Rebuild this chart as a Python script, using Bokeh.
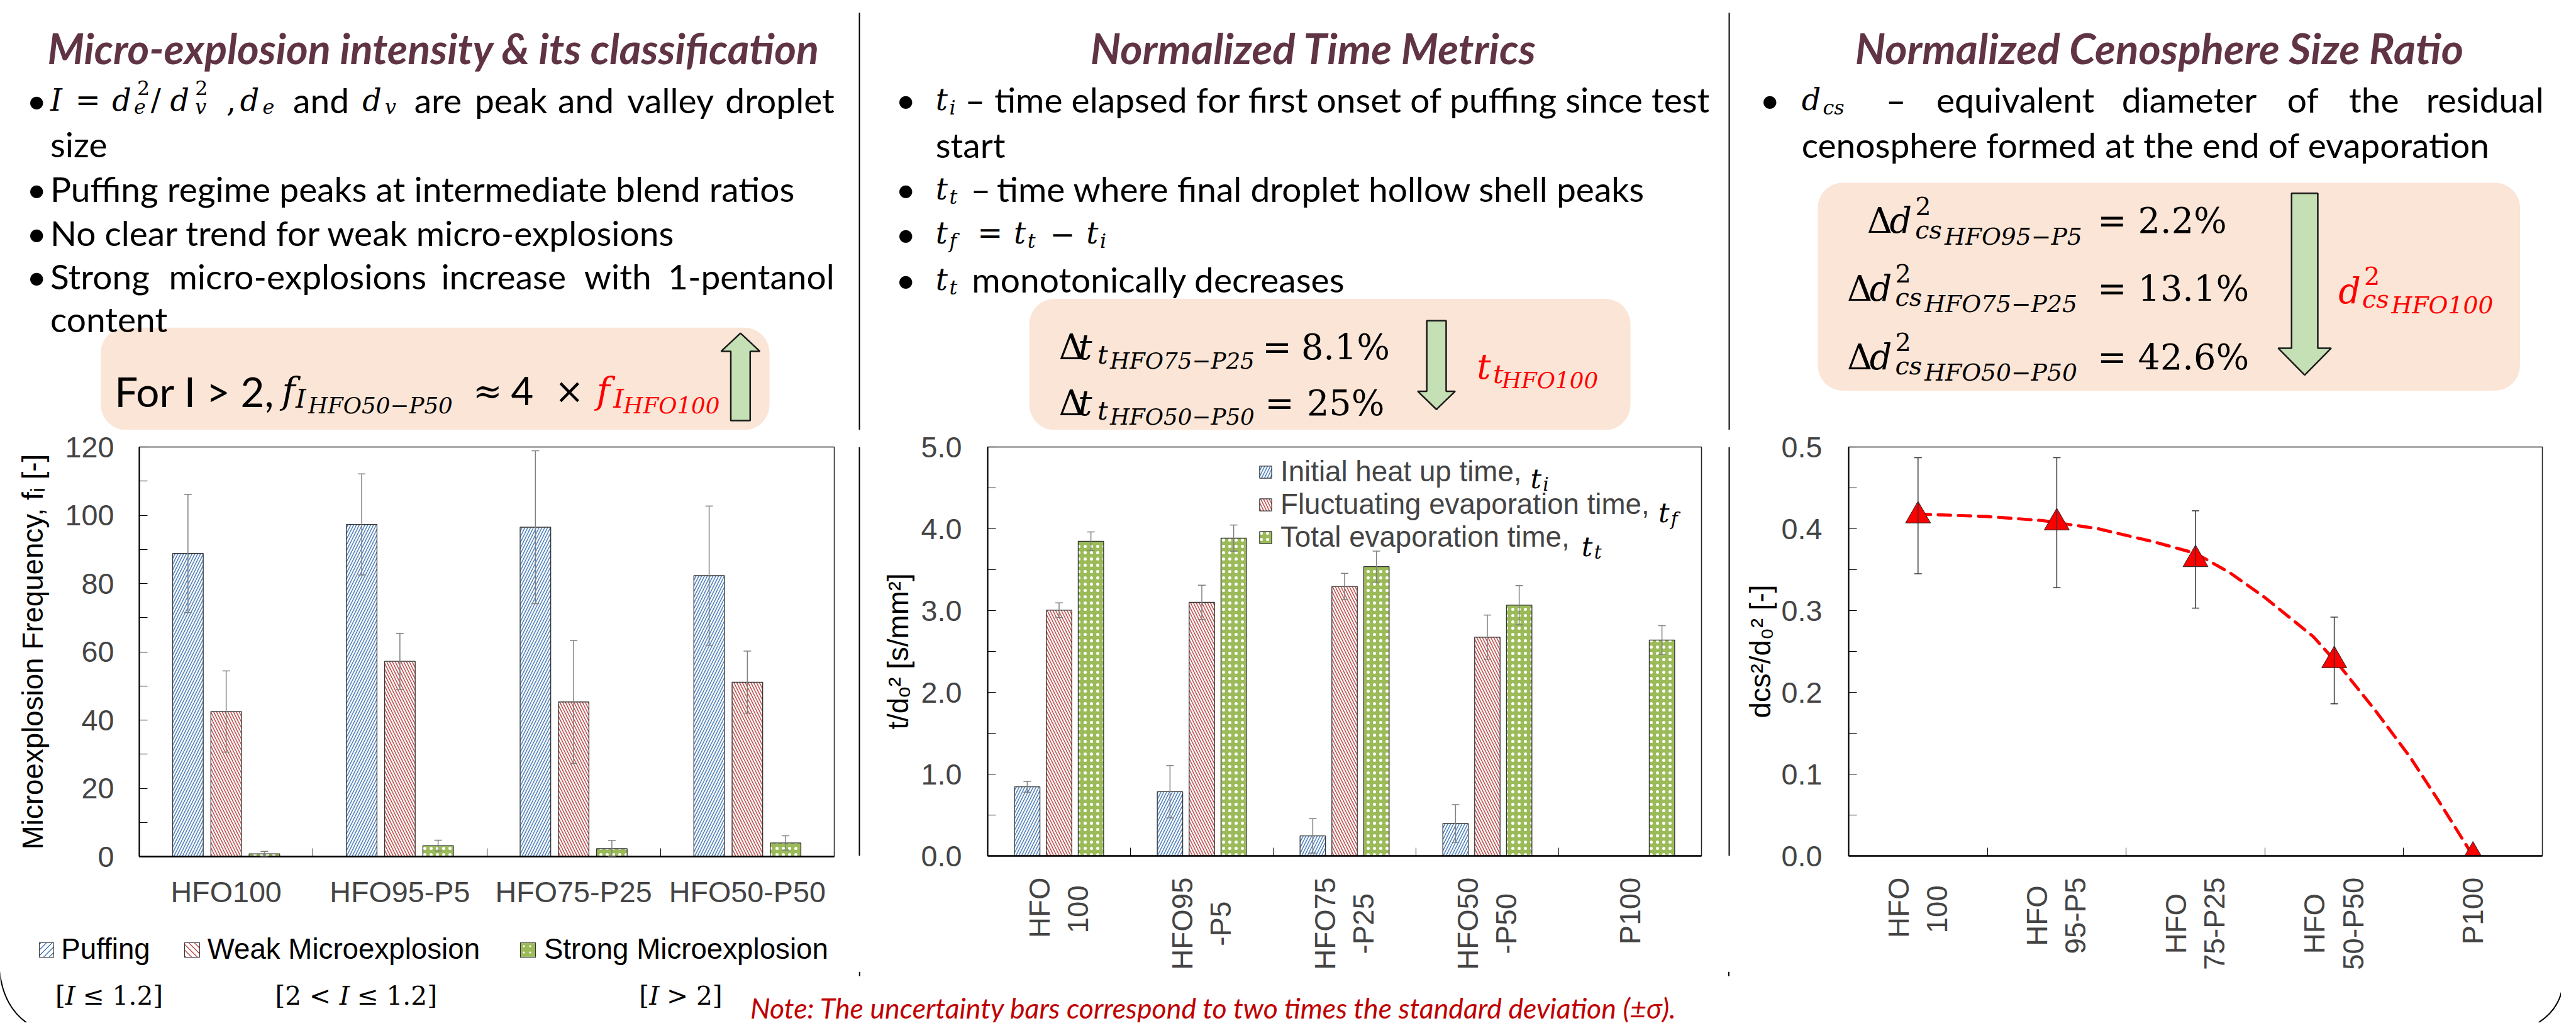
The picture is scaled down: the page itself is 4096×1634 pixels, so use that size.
import math
from bokeh.plotting import figure
from bokeh.layouts import row, column
from bokeh.models import (Range1d, LinearAxis, FixedTicker, Whisker, TeeHead, ColumnDataSource,
                          Legend, LegendItem, BoxAnnotation, Label, NumeralTickFormatter, Div)
from bokeh.embed import file_html
from bokeh.resources import INLINE
from bokeh.core.properties import value

S = 0.993
RW, RH = 4101, 1636


def sx(v):
    return round(v * S)


def px(v):
    return f"{v * S:.1f}px"

# ---------------- data ----------------
groups_freq = ["HFO100", "HFO95-P5", "HFO75-P25", "HFO50-P50"]
puffing = [88.8, 97.3, 96.5, 82.3]
puffing_err = [17.3, 14.8, 22.4, 20.4]
weak = [42.5, 57.2, 45.3, 51.1]
weak_err = [11.9, 8.2, 18.0, 9.1]
strong = [0.8, 3.2, 2.3, 4.0]
strong_err = [0.7, 1.6, 2.4, 2.1]
freq_series = ["Puffing", "Weak Microexplosion", "Strong Microexplosion"]
freq_ticks = [0, 20, 40, 60, 80, 100, 120]
freq_title = "Microexplosion Frequency, fᵢ [-]"

NB = "\u00a0"
groups_time = ["HFO\n" + NB + "100" + NB, "HFO95\n" + NB * 3 + "-P5" + NB * 3,
               "HFO75\n" + NB * 2 + "-P25" + NB * 2, "HFO50\n" + NB * 2 + "-P50" + NB * 2, "P100"]
t_i = [0.845, 0.785, 0.245, 0.396, None]
t_i_err = [0.067, 0.32, 0.21, 0.23, None]
t_f = [3.005, 3.10, 3.295, 2.675, None]
t_f_err = [0.09, 0.21, 0.16, 0.27, None]
t_t = [3.847, 3.886, 3.537, 3.066, 2.64]
t_t_err = [0.115, 0.16, 0.19, 0.24, 0.175]
time_series = ["Initial heat up time,", "Fluctuating evaporation time,", "Total evaporation time,"]
time_ticks = [0, 1, 2, 3, 4, 5]
time_title = "t/dₒ² [s/mm²]"

groups_cs = ["HFO\n" + NB + "100" + NB, NB + "HFO" + NB + "\n95-P5", NB * 2 + "HFO" + NB * 2 + "\n75-P25",
             NB * 2 + "HFO" + NB * 2 + "\n50-P50", "P100"]
d_cs = [0.416, 0.4075, 0.3625, 0.239, 0.0]
d_cs_err = [0.071, 0.0795, 0.0595, 0.053, None]
trend_pos = [0.0, 0.5, 0.9, 1.3, 1.7, 2.0, 2.25, 2.5, 2.85, 3.05, 3.3, 3.55, 3.75, 4.0]
trend_val = [0.418, 0.415, 0.41, 0.40, 0.384, 0.370, 0.346, 0.316, 0.268, 0.23, 0.177, 0.12, 0.068, 0.0]
cs_ticks = [0.0, 0.1, 0.2, 0.3, 0.4, 0.5]
cs_title = "dcs²/d₀² [-]"

# ---------------- styles ----------------
TITLE = "#603445"
RED = "#FF0000"
NOTE = "#C00000"
BLUE_H = "#4F81BD"
RED_H = "#C0504D"
GREEN = "#9BBB59"
PEACH = "#FBE5D6"
ARROW_FILL = "#C5E0B4"
SANS = "Liberation Sans"
BODY = "Lato"
MATH = "DejaVu Serif"
BT = 55.5      # body text size
BLUE_STYLE = dict(fill_color="white", hatch_pattern="/", hatch_color=BLUE_H, hatch_scale=9, hatch_weight=1.6)
RED_STYLE = dict(fill_color="white", hatch_pattern="\\", hatch_color=RED_H, hatch_scale=9, hatch_weight=1.6)
GREEN_STYLE = dict(fill_color=GREEN, hatch_pattern=".", hatch_color="white", hatch_scale=10, hatch_weight=2)
SWATCH_CSS = [
    f"background:repeating-linear-gradient(135deg,{BLUE_H} 0px,{BLUE_H} 1.6px,#ffffff 1.6px,#ffffff 6.4px);",
    f"background:repeating-linear-gradient(45deg,{RED_H} 0px,{RED_H} 1.6px,#ffffff 1.6px,#ffffff 6.4px);",
    f"background-color:{GREEN};background-image:radial-gradient(circle,#ffffff 1.3px,transparent 1.8px);"
    "background-size:10px 10px;",
]


class Canvas:
    """Maps reference-pixel positions to a figure's data space."""

    def __init__(self, p, fl, fr, ft, fb):
        self.p, self.fl, self.fr, self.ft, self.fb = p, fl, fr, ft, fb
        self.x0, self.x1 = p.x_range.start, p.x_range.end
        self.y0, self.y1 = p.y_range.start, p.y_range.end

    def X(self, xr):
        return self.x0 + (xr - self.fl) / (self.fr - self.fl) * (self.x1 - self.x0)

    def Y(self, yr):
        return self.y0 + (self.fb - yr) / (self.fb - self.ft) * (self.y1 - self.y0)

    def text(self, x, y, s, size, font=BODY, style="normal", color="black", align="left"):
        self.p.add_layout(Label(x=self.X(x), y=self.Y(y), text=s, text_font=font, text_font_size=px(size),
                                text_font_style=style, text_color=color, text_align=align,
                                text_baseline="alphabetic"))

    def box(self, l, r, t, b, color=PEACH, radius=40):
        self.p.add_layout(BoxAnnotation(left=self.X(l), right=self.X(r), top=self.Y(t), bottom=self.Y(b),
                                        fill_color=color, fill_alpha=1, line_color=None,
                                        border_radius=round(radius * S), level="underlay"))

    def arrow(self, xc, shaft_half, head_half, y_tail, y_base, y_tip):
        xs = [xc, xc + head_half, xc + shaft_half, xc + shaft_half, xc - shaft_half, xc - shaft_half, xc - head_half]
        ys = [y_tip, y_base, y_base, y_tail, y_tail, y_base, y_base]
        self.p.patch([self.X(v) for v in xs], [self.Y(v) for v in ys],
                     fill_color=ARROW_FILL, line_color="#1a1a1a", line_width=2.5)

    def vline(self, x, y0, y1):
        self.p.segment(x0=[self.X(x)], y0=[self.Y(y0)], x1=[self.X(x)], y1=[self.Y(y1)],
                       line_color="black", line_width=2)


def canvas(X0, X1, Y0, Y1):
    p = figure(width=sx(X1) - sx(X0), height=sx(Y1) - sx(Y0), x_range=Range1d(X0, X1), y_range=Range1d(Y1, Y0),
               output_backend="svg", toolbar_location=None, min_border=0,
               x_axis_location=None, y_axis_location=None, outline_line_color=None,
               background_fill_color="white", border_fill_color="white")
    p.grid.visible = False
    return p, Canvas(p, X0, X1, Y0, Y1)


def chart(X0, X1, Y0, Y1, fl, fr, ft, fb, xr, yr):
    p = figure(width=sx(X1) - sx(X0), height=sx(Y1) - sx(Y0),
               min_border_left=sx(fl) - sx(X0), min_border_right=sx(X1) - sx(fr),
               min_border_top=sx(ft) - sx(Y0), min_border_bottom=sx(Y1) - sx(fb),
               x_range=xr, y_range=yr, x_axis_location=None, y_axis_location=None,
               output_backend="svg", toolbar_location=None,
               background_fill_color="white", border_fill_color="white",
               outline_line_color="#222222", outline_line_width=1.5)
    p.grid.visible = False
    return p, Canvas(p, fl, fr, ft, fb)


def yaxis(p, ticks, title, title_standoff, fmt=None, standoff=40):
    minors = [(a + b) / 2 for a, b in zip(ticks[:-1], ticks[1:])]
    ax = LinearAxis(ticker=FixedTicker(ticks=ticks, minor_ticks=minors))
    ax.major_tick_in = round(13 * S); ax.major_tick_out = 0
    ax.minor_tick_in = round(13 * S); ax.minor_tick_out = 0
    ax.major_tick_line_color = "black"; ax.minor_tick_line_color = "black"
    ax.axis_line_width = 2
    ax.major_label_text_font = SANS
    ax.major_label_text_font_size = px(47)
    ax.major_label_standoff = round(standoff * S)
    ax.axis_label = title
    ax.axis_label_text_font = SANS
    ax.axis_label_text_font_size = px(46)
    ax.axis_label_text_font_style = "normal"
    ax.axis_label_text_color = "black"
    ax.axis_label_standoff = round(title_standoff * S)
    if fmt:
        ax.formatter = NumeralTickFormatter(format=fmt)
    p.add_layout(ax, "left")


def xaxis(p, labels, standoff, vertical=False):
    n = len(labels)
    centers = [i + 0.5 for i in range(n)]
    ax = LinearAxis(ticker=FixedTicker(ticks=centers, minor_ticks=list(range(1, n))),
                    major_label_overrides={c: l for c, l in zip(centers, labels)})
    ax.major_tick_in = 0; ax.major_tick_out = 0
    ax.minor_tick_in = round(13 * S); ax.minor_tick_out = 0
    ax.minor_tick_line_color = "black"
    ax.axis_line_width = 2.5
    ax.major_label_text_font = SANS
    ax.major_label_text_font_size = px(47 if not vertical else 46)
    ax.major_label_standoff = round(standoff * S)
    if vertical:
        ax.major_label_orientation = math.pi / 2
    p.add_layout(ax, "below")


def series(p, vals, errs, offset, width, whisk_color="#7F7F7F", **style):
    xs, tops, wx, up, lo = [], [], [], [], []
    for i, (v, e) in enumerate(zip(vals, errs)):
        if v is None:
            continue
        xs.append(i + 0.5 + offset); tops.append(v)
        if e is not None:
            wx.append(i + 0.5 + offset); up.append(v + e); lo.append(max(v - e, 0))
    r = p.vbar(x=xs, top=tops, width=width, bottom=0, line_color="#333333", line_width=1.3, **style)
    ws = ColumnDataSource(dict(x=wx, upper=up, lower=lo))
    p.add_layout(Whisker(source=ws, base="x", upper="upper", lower="lower", level="annotation",
                         line_color=whisk_color, line_width=1.5,
                         upper_head=TeeHead(size=round(12 * S), line_color=whisk_color, line_width=1.5),
                         lower_head=TeeHead(size=round(12 * S), line_color=whisk_color, line_width=1.5)))
    return r


Y1 = 688      # top text row / chart row split
YB = 1555     # chart row / bottom band split
YL = 1480     # chart 1 / its legend split

# ================= top row (titles, bullets, boxes) =================
top1, t1 = canvas(0, 1380, 0, Y1)
top2, t2 = canvas(1380, 2772, 0, Y1)
top3, t3 = canvas(2772, RW, 0, Y1)
t1.vline(1376, 20, Y1)
t2.vline(2768, 20, Y1)

# ---- column 1 ----
T = t1.text
T(694, 76, "Micro-explosion intensity & its classification", 67, style="bold italic", color=TITLE, align="center")
for yb in [160, 302, 372, 442]:
    T(42, yb, "•", BT)
T(80, 160, "I", 48, MATH, "italic")
T(120, 160, "=", 48, MATH)
T(179, 160, "d", 48, MATH, "italic"); T(219, 140, "2", 32, MATH); T(214, 170, "e", 32, MATH, "italic")
T(241, 160, "/", 48, MATH)
T(272, 160, "d", 48, MATH, "italic"); T(312, 140, "2", 32, MATH); T(312, 170, "v", 32, MATH, "italic")
T(362, 160, ",", 48, MATH)
T(384, 160, "d", 48, MATH, "italic"); T(420, 170, "e", 32, MATH, "italic")
T(469, 160, "and", BT)
T(580, 160, "d", 48, MATH, "italic"); T(616, 170, "v", 32, MATH, "italic")
for xw, w in [(663, "are"), (760, "peak"), (893, "and"), (1004, "valley")]:
    T(xw, 160, w, BT)
T(1336, 160, "droplet", BT, align="right")
T(80, 230, "size", BT)
T(80, 302, "Puffing regime peaks at intermediate blend ratios", BT)
T(80, 372, "No clear trend for weak micro-explosions", BT)
for xw, w in [(80, "Strong"), (270, "micro-explosions"), (706, "increase"), (935, "with")]:
    T(xw, 442, w, BT)
T(1336, 442, "1-pentanol", BT, align="right")
T(80, 510, "content", BT)

t1.box(161, 1232, 524, 688)
T(183, 626, "For I > 2,", 66)
T(451, 626, "f", 58, MATH, "italic"); T(473, 638, "I", 42, MATH, "italic"); T(493, 649, "HFO50−P50", 36, MATH, "italic")
T(757, 626, "≈", 56, MATH); T(818, 626, "4", 62); T(888, 626, "×", 56, MATH)
T(955, 626, "f", 58, MATH, "italic", RED); T(982, 638, "I", 42, MATH, "italic", RED)
T(998, 649, "HFO100", 36, MATH, "italic", RED)
t1.arrow(1185.5, 15.5, 31, 673, 562, 533)

# ---- column 2 ----
T = t2.text
T(2103, 76, "Normalized Time Metrics", 68, style="bold italic", color=TITLE, align="center")
for yb in [159, 302, 373, 447]:
    T(1434, yb, "•", BT)
T(1498, 159, "t", 48, MATH, "italic"); T(1520, 171, "i", 32, MATH, "italic"); T(1545, 159, "–", BT)
T(1592, 159, "time elapsed for first onset of puffing since test", BT)
T(1498, 231, "start", BT)
T(1498, 302, "t", 48, MATH, "italic"); T(1520, 314, "t", 32, MATH, "italic"); T(1554, 302, "–", BT)
T(1596, 302, "time where final droplet hollow shell peaks", BT)
T(1498, 373, "t", 48, MATH, "italic"); T(1520, 385, "f", 32, MATH, "italic"); T(1565, 373, "=", 48, MATH)
T(1623, 373, "t", 48, MATH, "italic"); T(1645, 385, "t", 32, MATH, "italic"); T(1681, 373, "−", 48, MATH)
T(1739, 373, "t", 48, MATH, "italic"); T(1761, 385, "i", 32, MATH, "italic")
T(1498, 447, "t", 48, MATH, "italic"); T(1520, 459, "t", 32, MATH, "italic")
T(1556, 447, "monotonically decreases", BT)

t2.box(1648, 2610, 478, 688)
for yb, sub, eqx, val, valx in [(555, "HFO75−P25", 2021, "8.1%", 2083), (645, "HFO50−P50", 2025, "25%", 2092)]:
    T(1695, yb, "Δ", 56, MATH); T(1726, yb, "t", 56, MATH, "italic")
    T(1757, yb + 12, "t", 42, MATH, "italic"); T(1777, yb + 22, sub, 36, MATH, "italic")
    T(eqx, yb, "=", 56, MATH); T(valx, yb, val, 56, MATH)
t2.arrow(2299.5, 15.5, 30, 513, 626, 655)
T(2364, 586, "t", 56, MATH, "italic", RED); T(2390, 598, "t", 42, MATH, "italic", RED)
T(2404, 608, "HFO100", 36, MATH, "italic", RED)

# ---- column 3 ----
T = t3.text
T(3457, 76, "Normalized Cenosphere Size Ratio", 68, style="bold italic", color=TITLE, align="center")
T(2817, 159, "•", BT)
T(2884, 159, "d", 48, MATH, "italic"); T(2918, 171, "cs", 32, MATH, "italic"); T(3019, 159, "–", BT)
for xw, w in [(3100, "equivalent"), (3397, "diameter"), (3662, "of"), (3761, "the")]:
    T(xw, 159, w, BT)
T(4073, 159, "residual", BT, align="right")
T(2884, 231, "cenosphere formed at the end of evaporation", BT)

t3.box(2910, 4035, 292, 625)
for yb, dx, sub, val in [(353, 32, "HFO95−P5", "2.2%"), (461, 0, "HFO75−P25", "13.1%"), (571, 0, "HFO50−P50", "42.6%")]:
    T(2957 + dx, yb, "Δ", 56, MATH); T(2993 + dx, yb, "d", 56, MATH, "italic")
    T(3034 + dx, yb - 24, "2", 40, MATH); T(3034 + dx, yb + 14, "cs", 40, MATH, "italic")
    T(3081 + dx, yb + 25, sub, 38, MATH, "italic")
    T(3358, yb, "=", 56, MATH); T(3423, yb, val, 56, MATH)
t3.arrow(3690, 21, 42.5, 309, 557, 600)
T(3744, 465, "d", 56, MATH, "italic", RED); T(3785, 441, "2", 40, MATH, "normal", RED)
T(3782, 478, "cs", 40, MATH, "italic", RED); T(3829, 488, "HFO100", 38, MATH, "italic", RED)

# ================= chart row =================
# chart 1 : microexplosion frequency
p1, c1 = chart(0, 1366, Y1, YL, 223, 1335, 715, 1371, Range1d(0, len(groups_freq)), Range1d(0, 120))
yaxis(p1, freq_ticks, freq_title, 23, standoff=40)
xaxis(p1, groups_freq, 30)
r1 = [series(p1, puffing, puffing_err, -0.22, 0.176, **BLUE_STYLE),
      series(p1, weak, weak_err, 0.0, 0.176, **RED_STYLE),
      series(p1, strong, strong_err, 0.22, 0.176, **GREEN_STYLE)]

# legend for chart 1 (below the chart), drawn as positioned HTML
LG_W, LG_H = sx(1366), sx(YB) - sx(YL)
fs = 46 * S
parts = [f'<div style="position:relative;width:{LG_W}px;height:{LG_H}px;overflow:hidden;">']
for name, css, xp, xt in zip(freq_series, SWATCH_CSS, [62, 295, 833], [98, 332, 871]):
    parts.append(f'<span style="position:absolute;left:{xp * S:.1f}px;top:{(1508 - YL) * S:.1f}px;'
                 f'width:{25 * S:.1f}px;height:{24 * S:.1f}px;box-sizing:border-box;'
                 f'border:1.3px solid #333333;{css}"></span>')
    parts.append(f'<span style="position:absolute;left:{xt * S:.1f}px;top:{(1535 - YL) * S - 0.8465 * fs:.1f}px;'
                 f"font-family:'{SANS}';font-size:{fs:.1f}px;line-height:1;white-space:nowrap;"
                 f'color:#000000;">{name}</span>')
parts.append("</div>")
lg1 = Div(text="".join(parts), width=LG_W, height=LG_H, margin=(0, 0, 0, 0))

div1, d1c = canvas(1366, 1380, Y1, YB)
d1c.vline(1376, Y1, YB)

# chart 2 : normalized times
p2, c2 = chart(1380, 2758, Y1, YB, 1581, 2724, 715, 1371, Range1d(0, len(groups_time)), Range1d(0, 5))
yaxis(p2, time_ticks, time_title, 8, fmt="0.0", standoff=41)
xaxis(p2, groups_time, 34, vertical=True)
r2 = [series(p2, t_i, t_i_err, -0.223, 0.178, **BLUE_STYLE),
      series(p2, t_f, t_f_err, 0.0, 0.178, **RED_STYLE),
      series(p2, t_t, t_t_err, 0.223, 0.178, **GREEN_STYLE)]
p2.add_layout(Legend(items=[LegendItem(label=value(s), renderers=[r]) for s, r in zip(time_series, r2)],
                     orientation="vertical", location=(sx(2014) - sx(1581), sx(1371) - sx(887)),
                     label_text_font=SANS, label_text_font_size=px(46),
                     glyph_width=round(24 * S), glyph_height=round(24 * S), label_standoff=round(12 * S),
                     label_height=round(50 * S), spacing=0, padding=0, margin=0,
                     border_line_color=None, background_fill_alpha=0))
T = c2.text
T(2450, 765, "t", 44, MATH, "italic"); T(2470, 775, "i", 30, MATH, "italic")
T(2655, 820, "t", 44, MATH, "italic"); T(2675, 830, "f", 30, MATH, "italic")
T(2532, 874, "t", 44, MATH, "italic"); T(2552, 884, "t", 30, MATH, "italic")

div2, d2c = canvas(2758, 2772, Y1, YB)
d2c.vline(2768, Y1, YB)

# chart 3 : cenosphere size ratio
p3, c3 = chart(2772, RW, Y1, YB, 2960, 4070, 715, 1371, Range1d(0, len(groups_cs)), Range1d(0, 0.5))
yaxis(p3, cs_ticks, cs_title, 5, fmt="0.0", standoff=42)
xaxis(p3, groups_cs, 34, vertical=True)
wx, up, lo = [], [], []
for i, (v, e) in enumerate(zip(d_cs, d_cs_err)):
    if e is not None:
        wx.append(i + 0.5); up.append(v + e); lo.append(v - e)
p3.add_layout(Whisker(source=ColumnDataSource(dict(x=wx, upper=up, lower=lo)), base="x", upper="upper",
                      lower="lower", level="glyph", line_color="#333333", line_width=1.5,
                      upper_head=TeeHead(size=round(12 * S), line_color="#333333", line_width=1.5),
                      lower_head=TeeHead(size=round(12 * S), line_color="#333333", line_width=1.5)))
p3.line([t + 0.5 for t in trend_pos], trend_val, line_color=RED, line_width=5 * S,
        line_dash="20 12", line_cap="round")
p3.scatter([i + 0.5 for i in range(len(d_cs))], d_cs, marker="triangle", size=40 * S,
           fill_color=RED, line_color="#202020", line_width=1)

# ================= bottom band =================
pb, cb = canvas(0, RW, YB, RH)
cb.vline(1376, YB, 1562)
cb.vline(2768, YB, 1562)
pb.quadratic(x0=[-2, 4103], y0=[1545, 1580], x1=[48, 4058], y1=[1640, 1640], cx=[2, 4097], cy=[1612, 1618],
             line_color="black", line_width=2)
T = cb.text
T(88, 1593, "[", 41, MATH); T(104, 1593, "I", 41, MATH, "italic"); T(132, 1593, "≤ 1.2]", 41, MATH)
T(440, 1593, "[2 <", 41, MATH); T(543, 1593, "I", 41, MATH, "italic"); T(571, 1593, "≤ 1.2]", 41, MATH)
T(1023, 1593, "[", 41, MATH); T(1039, 1593, "I", 41, MATH, "italic"); T(1067, 1593, "> 2]", 41, MATH)
T(1201, 1612, "Note: The uncertainty bars correspond to two times the standard deviation (±σ).", 45,
  BODY, "italic", NOTE)

layout = column(row(top1, top2, top3),
                row(column(p1, lg1), div1, p2, div2, p3),
                pb)
open("out.html", "w").write(file_html(layout, INLINE))
